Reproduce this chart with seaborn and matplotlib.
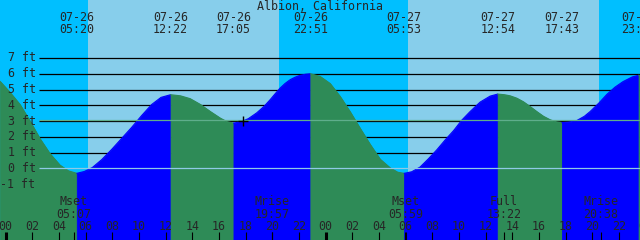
import numpy as np
import matplotlib
matplotlib.use("Agg")
import matplotlib.pyplot as plt
import matplotlib.transforms as mtransforms
import seaborn as sns

title = "Albion, California"

# tide height: hours since 07-26 00:00 -> feet
curve_hours = [-0.43, 0.32, 1.07, 1.82, 2.57, 3.32, 4.07, 4.7, 5.333,
               5.9, 6.5, 7.2, 7.95, 8.7, 9.45, 10.2, 10.95, 11.65, 12.367,
               13.1, 13.83, 14.6, 15.35, 16.1, 16.6, 17.083,
               17.6, 18.2, 18.83, 19.4, 19.83, 20.2, 20.57, 20.95, 21.33, 21.7, 22.08, 22.5, 22.85,
               23.58, 24.33, 25.08, 25.83, 26.58, 27.33, 28.08, 28.83, 29.4, 29.883,
               30.45, 31.08, 31.7, 32.33, 32.96, 33.6, 34.2, 34.83, 35.58, 36.33, 36.9,
               37.4, 37.83, 38.33, 38.83, 39.33, 39.83, 40.33, 40.83, 41.3, 41.717,
               42.2, 42.83, 43.4, 43.83, 44.5, 45.1, 45.7, 46.3, 47.0, 47.467, 47.6]
curve_feet = [5.52, 4.82, 4.05, 3.0, 1.88, 0.93, 0.2, -0.16, -0.32,
              -0.2, 0.05, 0.55, 1.2, 1.9, 2.6, 3.35, 4.05, 4.5, 4.67,
              4.6, 4.42, 4.05, 3.6, 3.18, 2.96, 2.87,
              2.94, 3.15, 3.52, 3.95, 4.35, 4.72, 5.08, 5.38, 5.62, 5.78, 5.9, 5.97, 6.0,
              5.83, 5.38, 4.56, 3.59, 2.54, 1.52, 0.58, 0.03, -0.25, -0.32,
              -0.22, 0.08, 0.6, 1.17, 1.8, 2.4, 3.05, 3.6, 4.2, 4.58, 4.71,
              4.67, 4.6, 4.45, 4.22, 3.92, 3.6, 3.3, 3.08, 2.95, 2.9,
              2.93, 3.03, 3.3, 3.6, 4.15, 4.7, 5.15, 5.5, 5.8, 5.9, 5.89]

tide_dates = ["07-26", "07-26", "07-26", "07-26", "07-27", "07-27", "07-27", "07-27"]
tide_times = ["05:20", "12:22", "17:05", "22:51", "05:53", "12:54", "17:43", "23:28"]
tide_rising = [False, True, False, True, False, True, False, True]  # movement that ends at the extreme

moon_events = ["Mset", "Mrise", "Mset", "Full", "Mrise"]
moon_times = ["05:07", "19:57", "05:59", "13:22", "20:38"]
moon_day = [0, 0, 1, 1, 1]

sunrise_times = ["06:10", "06:11"]
sunset_times = ["20:30", "20:31"]

ft_levels = [7, 6, 5, 4, 3, 2, 1, 0, -1]
mean_level = 3.05
mark_hour, mark_feet = 17.8, 2.97


def hrs(hhmm, day=0):
    h, m = hhmm.split(":")
    return day * 24 + int(h) + int(m) / 60


DAY_SKY = "#87CEEB"
NIGHT_SKY = "#00BFFF"
RISE = "#0000FF"
FALL = "#2E8B57"

sns.set_style("white")
plt.rcParams["font.family"] = ["DejaVu Sans Mono"]
plt.rcParams["font.size"] = 8.4

W, H = 640, 240
fig = plt.figure(figsize=(6.4, 2.4), dpi=100)
ax = fig.add_axes([0, 0, 1, 1])
ax.set_axis_off()

px_per_h = 320 / 24
x0 = 5.7          # pixel of 07-26 00:00
ft_px = 15.76
y0 = 168.3        # pixel row of 0 ft
xmin, xmax = -x0 / px_per_h, (W - x0) / px_per_h
ytop, ybot = y0 / ft_px, -(H - y0) / ft_px
ax.set_xlim(xmin, xmax)
ax.set_ylim(ybot, ytop)


def px2h(px):
    return (px - x0) / px_per_h


trans = mtransforms.blended_transform_factory(ax.transData, ax.transAxes)


def row(py):
    return 1 - py / H


# day / night sky
rises = [hrs(t, d) for d, t in enumerate(sunrise_times)]
sets = [hrs(t, d) for d, t in enumerate(sunset_times)]
edges = [xmin] + [v for pair in zip(rises, sets) for v in pair] + [xmax]
for i in range(len(edges) - 1):
    ax.axvspan(edges[i], edges[i + 1], color=NIGHT_SKY if i % 2 == 0 else DAY_SKY, lw=0, zorder=0)

# foot grid lines behind the water
ax.hlines([v for v in ft_levels if v > 0], px2h(39), xmax, color="black", lw=0.9, zorder=1)

# water, coloured by rising / falling
t = np.array(curve_hours)
f = np.array(curve_feet)
ext = [hrs(tt, 0 if d == "07-26" else 1) for d, tt in zip(tide_dates, tide_times)]
bounds = [xmin - 1] + ext + [xmax + 1]
seg_rising = tide_rising + [not tide_rising[-1]]
for i in range(len(bounds) - 1):
    m = (t >= bounds[i] - 0.02) & (t <= bounds[i + 1] + 0.02)
    if m.sum() < 2:
        continue
    c = RISE if seg_rising[i] else FALL
    ax.fill_between(t[m], f[m], ybot, color=c, lw=0.6, edgecolor=c, zorder=2)
    sns.lineplot(x=t[m], y=f[m], color=c, lw=0.8, ax=ax, zorder=2)

# datum and mean lines on top
ax.hlines(0, px2h(39), xmax, color="#8ECAE6", lw=0.9, zorder=3)
ax.hlines(mean_level, px2h(39), xmax, color="#5FAE8C", lw=0.9, zorder=3)
sns.scatterplot(x=[mark_hour], y=[mark_feet], marker="+", s=45, color="black",
                linewidth=1, ax=ax, zorder=4)

# foot labels
for v in ft_levels:
    ax.text(px2h(35.5), v, f"{v} ft", ha="right", va="center", zorder=5)

# title and tide extremes
ax.text(0.5, row(6), title, transform=ax.transAxes, ha="center", va="center")
for x, d, tt in zip(ext, tide_dates, tide_times):
    ax.text(x, row(17.5), d, transform=trans, ha="center", va="center")
    ax.text(x, row(29.5), tt, transform=trans, ha="center", va="center")

# moon events
for ev, tt, d in zip(moon_events, moon_times, moon_day):
    x = hrs(tt, d)
    ax.text(x, row(201.5), ev, transform=trans, ha="center", va="center")
    ax.text(x, row(214), tt, transform=trans, ha="center", va="center")
    ax.vlines(x, 0, row(231.5), transform=trans, color="black", lw=0.8, zorder=5)

# hour ticks
for day in range(3):
    for hh in range(0, 24, 2):
        x = day * 24 + hh
        if x > xmax + 1:
            continue
        ax.text(x, row(226), f"{hh:02d}", transform=trans, ha="center", va="center")
        ax.vlines(x, 0, row(231.5), transform=trans, color="black",
                  lw=2.2 if hh == 0 else 0.8, zorder=5)

fig.savefig("out.png", dpi=100)
plt.close(fig)
